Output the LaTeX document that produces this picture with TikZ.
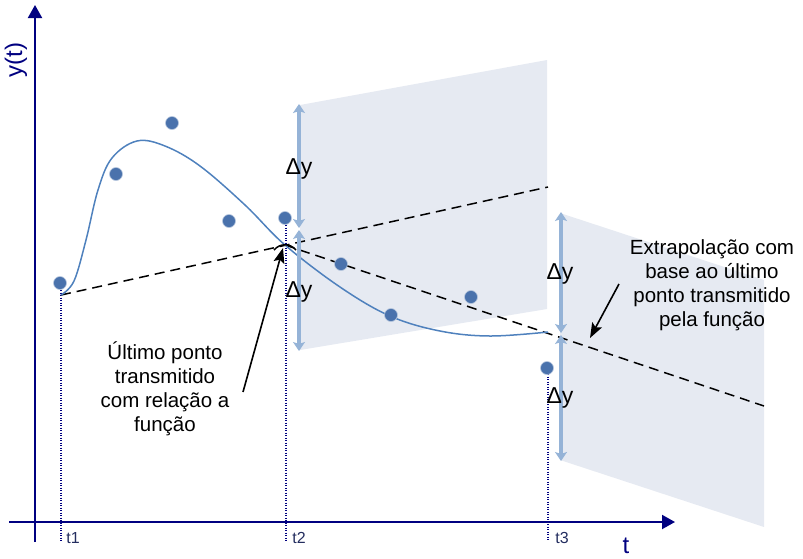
\documentclass[tikz,border=0pt]{standalone}
\usepackage{fontspec}
\setmainfont{Liberation Sans}
\usetikzlibrary{arrows.meta}
\definecolor{axisblue}{RGB}{0,0,128}
\definecolor{planefill}{RGB}{230,234,242}
\definecolor{dyblue}{RGB}{149,179,215}
\definecolor{curveblue}{RGB}{79,129,189}
\definecolor{dotblue}{RGB}{74,114,172}
\definecolor{tlabel}{RGB}{35,45,95}
\tikzset{
  plane/.style={fill=planefill, draw=none},
  axisline/.style={draw=axisblue, line width=2pt, -{Triangle[width=14pt,length=13pt]}},
  guide/.style={draw=axisblue, line width=1.1pt, dash pattern=on 1.2pt off 1.3pt},
  extra/.style={draw=black, line width=1.5pt, dash pattern=on 10pt off 6pt},
  fitcurve/.style={draw=curveblue, line width=1.5pt},
  dyarrow/.style={draw=dyblue, line width=4pt, {Stealth[width=12pt,length=9pt,inset=2pt]}-{Stealth[width=12pt,length=9pt,inset=2pt]}},
  sample/.style={circle, fill=dotblue, draw=dotblue!40!white, line width=0.6pt, minimum size=13pt, inner sep=0pt},
  dylabel/.style={font=\fontsize{23}{26}\selectfont, inner sep=0pt},
  tlab/.style={font=\fontsize{16}{18}\selectfont, text=tlabel, inner sep=0pt},
  note/.style={font=\fontsize{20.5}{24}\selectfont, align=center, inner sep=0pt},
  pointer/.style={draw=black, line width=1.6pt, -{Stealth[width=11pt,length=15pt,inset=3pt]}}
}
\begin{document}
\begin{tikzpicture}[x=1pt,y=-1pt]
\useasboundingbox (0,0) rectangle (803,558);
% planes
\fill[plane] (300,105) -- (547,60) -- (547,309) -- (300,350) -- cycle;
\fill[plane] (560,213) -- (764,280) -- (764,527) -- (560,460) -- cycle;
% key coordinates
\coordinate (c1) at (61,295);
\coordinate (c2) at (285,245);
\coordinate (c3) at (548,333);
\coordinate (d1) at (548,187);
\coordinate (d2) at (764,406);
\coordinate (g1) at (61,541);
\coordinate (g2) at (286,541);
\coordinate (g3) at (548,541);
% guides
\draw[guide] (61,290) -- (g1);
\draw[guide] (286,225) -- (g2);
\draw[guide] (548,374) -- (g3);
% axes
\coordinate (yb) at (35,542);
\coordinate (yt) at (35,5);
\coordinate (xl) at (9,522);
\coordinate (xr) at (675,522);
\draw[axisline] (yb) -- (yt);
\draw[axisline] (xl) -- (xr);
% dashed extrapolations
\draw[extra] (c1) -- (d1);
\draw[extra] (c2) -- (d2);
% fitted curve
\draw[fitcurve] plot[smooth, tension=0.6] coordinates {(61,295) (74,281) (86,240) (98,190) (112,158) (137,141) (165,146) (200,166) (245,205) (285,245) (340,287) (390,316) (440,331) (490,336) (548,332)};
\draw[black, line width=1.5pt] (274,250) .. controls (280,243) and (290,243) .. (296,250);
% delta y arrows
\coordinate (a1t) at (299,104);
\coordinate (a1m) at (299,228);
\coordinate (a1n) at (299,230);
\coordinate (a1b) at (299,351);
\coordinate (a2t) at (561,212);
\coordinate (a2m) at (561,333);
\coordinate (a2n) at (561,335);
\coordinate (a2b) at (561,461);
\draw[dyarrow] (a1t) -- (a1m);
\draw[dyarrow] (a1n) -- (a1b);
\draw[dyarrow] (a2t) -- (a2m);
\draw[dyarrow] (a2n) -- (a2b);
\node[dylabel] (dy1) at (299,169) {Δy};
\node[dylabel] (dy2) at (299,292) {Δy};
\node[dylabel] (dy3) at (560,274) {Δy};
\node[dylabel] (dy4) at (560,398) {Δy};
% sample points
\node[sample] (p1) at (60,283) {};
\node[sample] (p2) at (116,174) {};
\node[sample] (p3) at (172,123) {};
\node[sample] (p4) at (229,221) {};
\node[sample] (p5) at (285,218) {};
\node[sample] (p6) at (341,264) {};
\node[sample] (p7) at (391,315) {};
\node[sample] (p8) at (471,297) {};
\node[sample] (p9) at (547,368) {};
% axis labels
\node[rotate=90, font=\fontsize{24}{28}\selectfont, text=axisblue, inner sep=0pt] (ylab) at (16,60) {y(t)};
\node[font=\fontsize{24}{28}\selectfont, text=axisblue, inner sep=0pt] (tlab) at (626,546) {t};
\node[tlab] (t1) at (73,538) {t1};
\node[tlab] (t2) at (299,538) {t2};
\node[tlab] (t3) at (562,538) {t3};
% notes
\node[note] (n1) at (165,389) {Último ponto\\transmitido\\com relação a\\função};
\node[note] (n2) at (712,285) {Extrapolação com\\base ao último\\ponto transmitido\\pela função};
\coordinate (s1) at (243,392);
\coordinate (e1) at (283,248);
\coordinate (s2) at (619,284);
\coordinate (e2) at (590,338);
\draw[pointer] (s1) -- (e1);
\draw[pointer] (s2) -- (e2);
\end{tikzpicture}
\end{document}
